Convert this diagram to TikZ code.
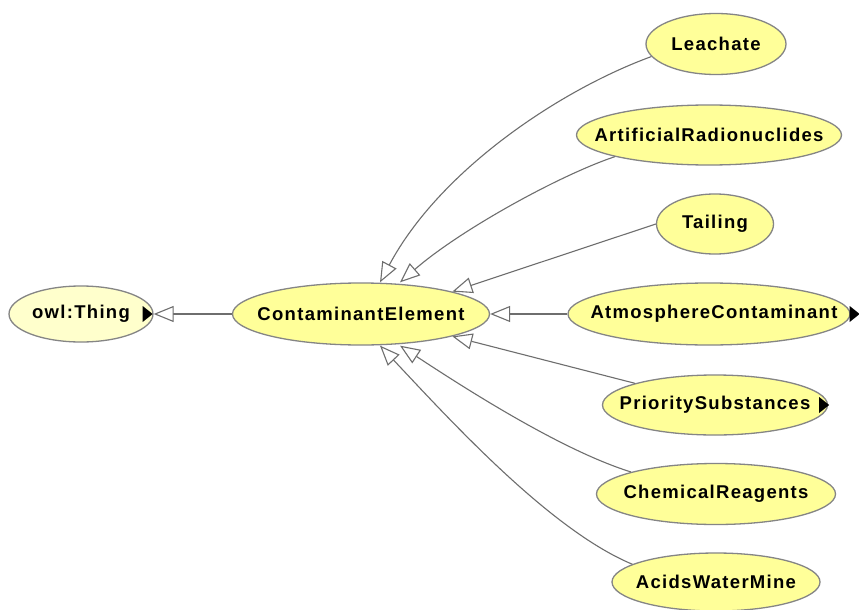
\documentclass[tikz,border=0pt]{standalone}
\usepackage{fontspec}
\setmainfont{Liberation Sans}[LetterSpace=7]
\usetikzlibrary{arrows.meta,shapes.geometric}
\definecolor{classfill}{HTML}{FFFF99}
\definecolor{rootfill}{HTML}{FFFFCC}
\definecolor{outline}{HTML}{858585}
\definecolor{edgegray}{HTML}{6E6E6E}
\newcommand{\lbl}[1]{\makebox[0pt]{#1}}
\begin{document}
\begin{tikzpicture}[x=1pt,y=-1pt,
  cls/.style={ellipse,draw=outline,line width=1.3pt,fill=classfill,inner sep=0pt,
    font=\fontsize{18.5}{20}\selectfont\bfseries},
  root/.style={cls,fill=rootfill},
  isa/.style={draw=edgegray,line width=1.1pt,
    -{Triangle[open,length=20pt,width=16pt,fill=white]}},
  more/.style={fill=black}]
\useasboundingbox (0,0) rectangle (859,610);
\fill[white] (0,0) rectangle (859,610);

% class nodes
\node[root,minimum width=144pt,minimum height=56pt] (thing) at (81,314) {\lbl{owl:Thing}};
\node[cls,minimum width=257pt,minimum height=62pt] (ce) at (361,314) {\lbl{ContaminantElement}};
\node[cls,minimum width=140pt,minimum height=61pt] (leach) at (716,44) {\lbl{Leachate}};
\node[cls,minimum width=265pt,minimum height=60pt] (art) at (709,135) {\lbl{ArtificialRadionuclides}};
\node[cls,minimum width=117pt,minimum height=60pt] (tail) at (715,224) {\lbl{Tailing}};
\node[cls,minimum width=282pt,minimum height=62pt] (atm) at (709,314) {\hspace{10pt}\lbl{AtmosphereContaminant}};
\node[cls,minimum width=225pt,minimum height=60pt] (prio) at (715,405) {\lbl{PrioritySubstances}};
\node[cls,minimum width=239pt,minimum height=61pt] (chem) at (716,494) {\lbl{ChemicalReagents}};
\node[cls,minimum width=208pt,minimum height=58pt] (acid) at (716,582) {\lbl{AcidsWaterMine}};

% expansion markers for classes with hidden subclasses
\fill[more] ([xshift=-11pt,yshift=8pt]thing.east) -- ++(10,8) -- ++(-10,8) -- cycle;
\fill[more] ([xshift=-1pt,yshift=8pt]atm.east) -- ++(10,8) -- ++(-10,8) -- cycle;
\fill[more] ([xshift=-9pt,yshift=8pt]prio.east) -- ++(10,8) -- ++(-10,8) -- cycle;

% subclass links
\draw[isa] (ce) -- (thing.east);
\draw[isa] (leach.191) .. controls (560,90) and (440,170) .. ([xshift=19pt]ce.north);
\draw[isa] (art.south west) .. controls (560,175) and (460,230) .. ([xshift=39pt]ce.north);
\draw[isa] (tail.west) -- (ce.north east);
\draw[isa] (atm) -- (ce);
\draw[isa] (prio.north west) -- (ce.south east);
\draw[isa] (chem.north west) .. controls (560,450) and (460,385) .. ([xshift=39pt]ce.south);
\draw[isa] (acid.168) .. controls (550,530) and (450,420) .. ([xshift=19pt]ce.south);
\end{tikzpicture}
\end{document}
